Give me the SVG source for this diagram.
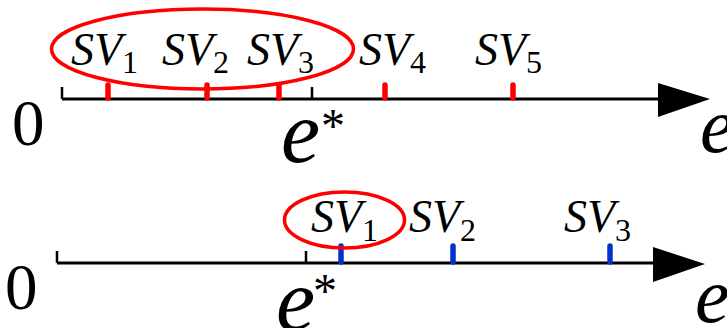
<svg xmlns="http://www.w3.org/2000/svg" width="727" height="328" viewBox="0 0 727 328">
<style>
.axis{stroke:#000;stroke-width:3;fill:none}
.tick{stroke:#000;stroke-width:2.5;fill:none}
.red{stroke:#ff0000;stroke-width:5.5;stroke-linecap:round}
.blue{stroke:#0033cc;stroke-width:5.5;stroke-linecap:round}
.ring{stroke:#ff0000;stroke-width:3.5;fill:none}
.sv{font-family:"Liberation Serif",serif;font-style:italic;font-size:46px;fill:#000}
.sub{font-style:normal;font-size:32px}
.num{font-family:"Liberation Serif",serif;font-size:65px;fill:#000}
.e{font-family:"Liberation Serif",serif;font-style:italic;fill:#000}
.star{font-family:"Liberation Serif",serif;font-size:48px;fill:#000}
</style>
<g id="connectors">
  <g id="axis-top">
    <path class="axis" d="M62,99 H662"/>
    <path class="tick" d="M62,87 V99 M312,87 V99"/>
    <polygon points="658,83 710,99 658,117" fill="#000"/>
  </g>
  <g id="axis-bottom">
    <path class="axis" d="M57,263 H657"/>
    <path class="tick" d="M57,251 V263 M306,251 V263"/>
    <polygon points="653,247 705,264 653,282" fill="#000"/>
  </g>
</g>
<g id="marks-top">
  <line class="red" x1="108" y1="85" x2="108" y2="98"/>
  <line class="red" x1="207" y1="85" x2="207" y2="98"/>
  <line class="red" x1="279" y1="85" x2="279" y2="98"/>
  <line class="red" x1="385" y1="85" x2="385" y2="98"/>
  <line class="red" x1="513" y1="85" x2="513" y2="98"/>
</g>
<g id="marks-bottom">
  <line class="blue" x1="341" y1="246" x2="341" y2="262"/>
  <line class="blue" x1="453" y1="246" x2="453" y2="262"/>
  <line class="blue" x1="610" y1="246" x2="610" y2="262"/>
</g>
<g id="group-top"><ellipse class="ring" cx="202.5" cy="49" rx="151" ry="40"/></g>
<g id="group-bottom"><ellipse class="ring" cx="344.5" cy="220" rx="60" ry="28"/></g>
<g id="labels-top">
  <text class="sv" x="71" y="65">SV<tspan class="sub" dy="8">1</tspan></text>
  <text class="sv" x="162" y="65">SV<tspan class="sub" dy="8">2</tspan></text>
  <text class="sv" x="247" y="65">SV<tspan class="sub" dy="8">3</tspan></text>
  <text class="sv" x="359" y="65">SV<tspan class="sub" dy="8">4</tspan></text>
  <text class="sv" x="475" y="65">SV<tspan class="sub" dy="8">5</tspan></text>
  <text class="num" x="12" y="145">0</text>
  <text class="e" x="281" y="162" font-size="88">e</text>
  <text class="star" x="321" y="142">*</text>
  <text class="e" x="700" y="152" font-size="78">e</text>
</g>
<g id="labels-bottom">
  <text class="sv" x="311" y="232">SV<tspan class="sub" dy="9">1</tspan></text>
  <text class="sv" x="409" y="232">SV<tspan class="sub" dy="9">2</tspan></text>
  <text class="sv" x="564" y="232">SV<tspan class="sub" dy="9">3</tspan></text>
  <text class="num" x="5" y="309">0</text>
  <text class="e" x="276" y="330" font-size="88">e</text>
  <text class="star" x="313" y="307">*</text>
  <text class="e" x="695" y="322" font-size="78">e</text>
</g>
</svg>
